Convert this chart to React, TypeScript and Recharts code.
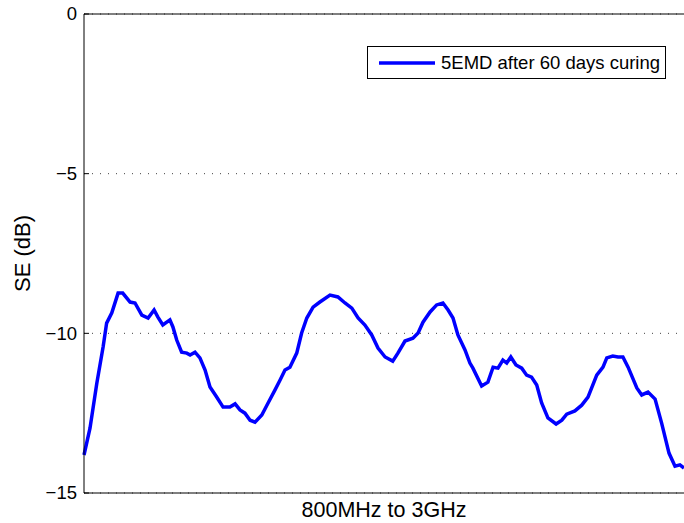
import { LineChart, Line, XAxis, YAxis, CartesianGrid, ReferenceLine, Label } from "recharts";

// frequency sweep, GHz
const freq = [
  0.8, 0.822, 0.847, 0.87, 0.883, 0.902, 0.925, 0.942, 0.969, 0.987,
  1.012, 1.035, 1.057, 1.071, 1.089, 1.115, 1.126, 1.14, 1.158, 1.177,
  1.189, 1.207, 1.225, 1.244, 1.262, 1.287, 1.31, 1.335, 1.354, 1.372,
  1.39, 1.409, 1.427, 1.452, 1.475, 1.5, 1.519, 1.537, 1.555, 1.58,
  1.598, 1.617, 1.64, 1.665, 1.702, 1.731, 1.757, 1.782, 1.805, 1.83,
  1.855, 1.878, 1.904, 1.932, 1.951, 1.977, 2.006, 2.025, 2.043, 2.069,
  2.093, 2.116, 2.135, 2.153, 2.171, 2.197, 2.215, 2.226, 2.258, 2.281,
  2.3, 2.318, 2.336, 2.35, 2.365, 2.384, 2.405, 2.423, 2.441, 2.46,
  2.478, 2.501, 2.531, 2.552, 2.57, 2.6, 2.625, 2.648, 2.68, 2.703,
  2.717, 2.739, 2.758, 2.776, 2.795, 2.827, 2.845, 2.868, 2.894, 2.918,
  2.945, 2.967, 2.985, 3.0,
];

// shielding effectiveness, dB
const se = [
  -13.81, -12.97, -11.56, -10.43, -9.68, -9.36, -8.74, -8.74, -9.02, -9.05,
  -9.43, -9.52, -9.27, -9.49, -9.74, -9.58, -9.8, -10.21, -10.59, -10.62,
  -10.68, -10.59, -10.77, -11.15, -11.68, -12.0, -12.31, -12.31, -12.21, -12.4,
  -12.5, -12.72, -12.78, -12.56, -12.18, -11.78, -11.46, -11.15, -11.06, -10.62,
  -9.99, -9.52, -9.18, -9.02, -8.8, -8.86, -9.05, -9.21, -9.52, -9.74,
  -10.05, -10.46, -10.74, -10.87, -10.62, -10.24, -10.15, -9.99, -9.65, -9.33,
  -9.11, -9.05, -9.27, -9.52, -10.05, -10.52, -10.93, -11.09, -11.65, -11.53,
  -11.06, -11.09, -10.84, -10.93, -10.74, -10.99, -11.09, -11.31, -11.37, -11.62,
  -12.18, -12.65, -12.84, -12.72, -12.53, -12.43, -12.25, -12.0, -11.31, -11.06,
  -10.77, -10.71, -10.74, -10.74, -11.06, -11.71, -11.93, -11.84, -12.06, -12.81,
  -13.75, -14.16, -14.12, -14.22,
];

const yTicks = [0, -5, -10, -15];
const seriesName = "5EMD after 60 days curing";

const data = freq.map((f, i) => ({ f, se: se[i] }));

const FONT = "'Liberation Sans', Arial, Helvetica, sans-serif";
const AXIS_W = 84;
const TICK_GAP = 7;

const fmt = (v: number) => (v < 0 ? `\u2212${-v}` : `${v}`);

// MATLAB-style tick: short mark pointing into the plot
function YTick(props: any) {
  const { x, y, payload } = props;
  return (
    <g>
      <line x1={AXIS_W} x2={AXIS_W + 5} y1={y} y2={y} stroke="#000" strokeWidth={1} />
      <text x={x} y={y} dy="0.35em" textAnchor="end" fontFamily={FONT} fontSize={18.5} fill="#000">
        {fmt(payload.value)}
      </text>
    </g>
  );
}

function LegendBox() {
  return (
    <div
      style={{
        position: "absolute",
        left: 367,
        top: 46,
        width: 297,
        height: 31,
        border: "1px solid #000",
        background: "#fff",
        display: "flex",
        alignItems: "center",
        fontFamily: FONT,
        fontSize: 18.5,
        color: "#000",
      }}
    >
      <svg width={73} height={31}>
        <line x1={11} x2={67} y1={16} y2={16} stroke="#0000ff" strokeWidth={3.5} />
      </svg>
      <span>{seriesName}</span>
    </div>
  );
}

export default function App() {
  return (
    <div style={{ position: "absolute", left: 0, top: 0, width: 684, height: 523, background: "#fff" }}>
      <LineChart width={684} height={523} data={data} margin={{ top: 14, right: 0, bottom: 0, left: 0 }}>
        <CartesianGrid vertical={false} stroke="#444" strokeDasharray="1 7" />
        <XAxis
          dataKey="f"
          type="number"
          domain={[0.8, 3]}
          ticks={[]}
          tick={false}
          tickLine={false}
          height={30}
          axisLine={{ stroke: "#000" }}
        >
          <Label
            value="800MHz to 3GHz"
            position="insideBottom"
            offset={6}
            style={{ fontFamily: FONT, fontSize: 21.5, fill: "#000" }}
          />
        </XAxis>
        <YAxis
          type="number"
          domain={[-15, 0]}
          ticks={yTicks}
          width={AXIS_W}
          tickSize={0}
          tickMargin={TICK_GAP}
          tickLine={false}
          tick={<YTick />}
          axisLine={{ stroke: "#000" }}
        >
          <Label
            value="SE (dB)"
            angle={-90}
            position="insideLeft"
            offset={22}
            style={{ fontFamily: FONT, fontSize: 22, fill: "#000", textAnchor: "middle" }}
          />
        </YAxis>
        <ReferenceLine y={0} stroke="#000" />
        <Line
          type="linear"
          dataKey="se"
          name={seriesName}
          stroke="#0000ff"
          strokeWidth={3.5}
          dot={false}
          isAnimationActive={false}
        />
      </LineChart>
      <LegendBox />
    </div>
  );
}
